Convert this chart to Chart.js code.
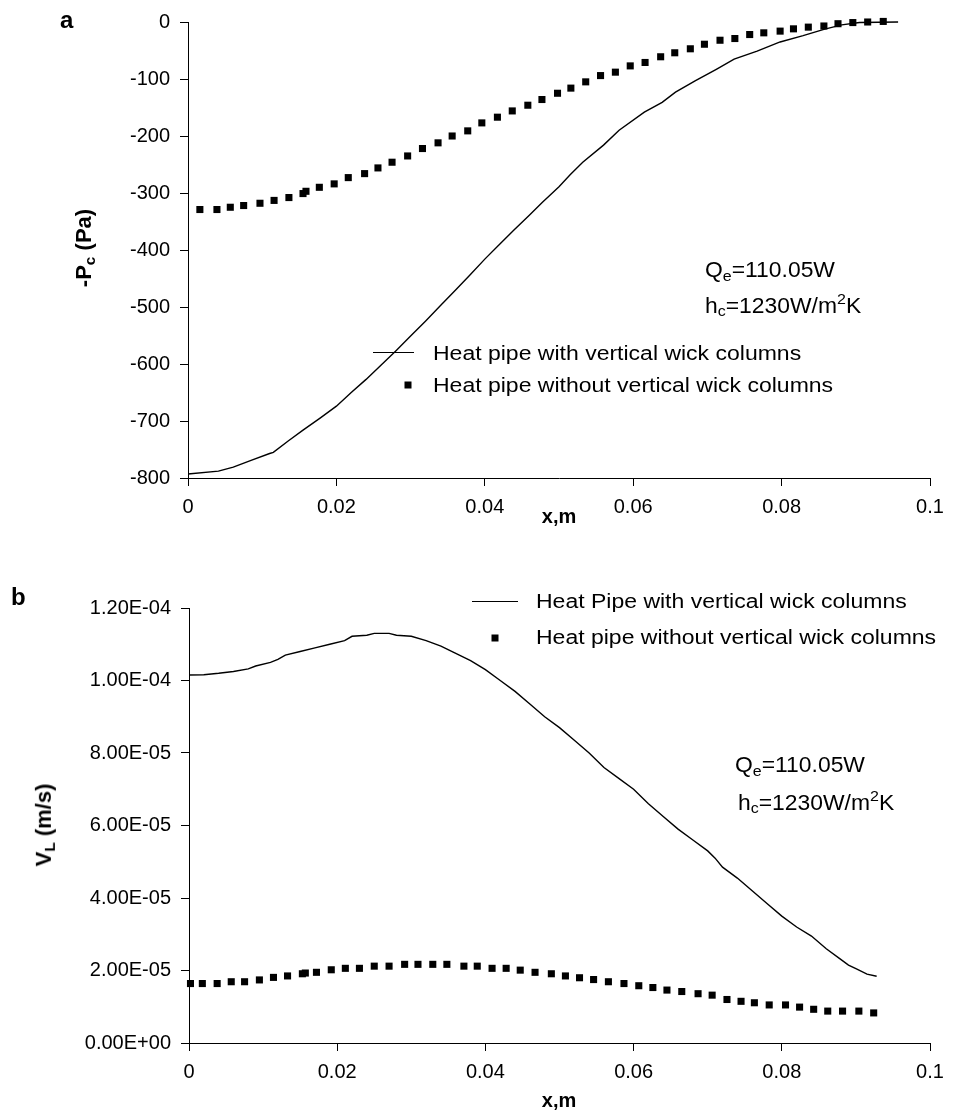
<!DOCTYPE html>
<html>
<head>
<meta charset="utf-8">
<script src="https://cdn.jsdelivr.net/npm/chart.js@4.4.1/dist/chart.umd.min.js"></script>
<style>
  html, body { margin: 0; padding: 0; background: #fff; }
  #wrap { position: relative; width: 953px; height: 1114px; overflow: hidden; font-family: "Liberation Sans", Arial, Helvetica, sans-serif; color: #000; }
  canvas { position: absolute; left: 0; }
  .t { position: absolute; white-space: nowrap; line-height: 1; }
  .lbl { font-weight: bold; font-size: 24px; }
  .ytitle { font-weight: bold; font-size: 22px; transform: translate(-50%, -50%) rotate(-90deg); }
  .xtitle { font-weight: bold; font-size: 20px; transform: translate(-50%, -50%); }
  .ann { font-size: 22px; transform: translateY(-50%) scaleX(1.04); transform-origin: left center; }
  .leg { font-size: 20px; transform: translateY(-50%) scaleX(1.15); transform-origin: left center; }
  sub { font-size: 70%; vertical-align: -0.25em; }
  sup { font-size: 70%; vertical-align: 0.55em; }
  .legline { position: absolute; height: 0; border-top: 1.5px solid #000; }
  .legsq { position: absolute; width: 7px; height: 7px; background: #000; transform: translate(-50%, -50%); }
</style>
</head>
<body>
<div id="wrap">
  <canvas id="ca" width="953" height="540" style="top:0px"></canvas>
  <canvas id="cb" width="953" height="554" style="top:560px"></canvas>

  <div class="t lbl" style="left:60px; top:8px;">a</div>
  <div class="t lbl" style="left:11px; top:585px;">b</div>

  <div class="t ytitle" style="left:85px; top:248px;">-P<sub>c</sub> (Pa)</div>
  <div class="t xtitle" style="left:559px; top:516px;">x,m</div>
  <div class="t ytitle" style="left:45px; top:825px;">V<sub>L</sub> (m/s)</div>
  <div class="t xtitle" style="left:559px; top:1100px;">x,m</div>

  <div class="t ann" style="left:705px; top:271px;">Q<sub>e</sub>=110.05W</div>
  <div class="t ann" style="left:705px; top:305px;">h<sub>c</sub>=1230W/m<sup>2</sup>K</div>
  <div class="t ann" style="left:735px; top:766px;">Q<sub>e</sub>=110.05W</div>
  <div class="t ann" style="left:738px; top:802px;">h<sub>c</sub>=1230W/m<sup>2</sup>K</div>

  <div class="legline" style="left:373px; width:41px; top:352px;"></div>
  <div class="t leg" style="left:433px; top:353px;">Heat pipe with vertical wick columns</div>
  <div class="legsq" style="left:408px; top:385px;"></div>
  <div class="t leg" style="left:433px; top:385px;">Heat pipe without vertical wick columns</div>

  <div class="legline" style="left:472px; width:46px; top:601px;"></div>
  <div class="t leg" style="left:536px; top:601px;">Heat Pipe with vertical wick columns</div>
  <div class="legsq" style="left:495px; top:638px;"></div>
  <div class="t leg" style="left:536px; top:637px;">Heat pipe without vertical wick columns</div>
</div>
<script>
// ---- Chart a: capillary pressure ----
const aLineX = [0, 0.0041, 0.0061, 0.0085, 0.011, 0.0115, 0.0135, 0.0155, 0.0178, 0.020, 0.022, 0.024, 0.026, 0.028, 0.030, 0.032, 0.034, 0.036, 0.038, 0.040, 0.042, 0.044, 0.046, 0.0477, 0.050, 0.0515, 0.0532, 0.056, 0.0581, 0.0615, 0.0639, 0.0657, 0.0684, 0.0712, 0.0736, 0.0767, 0.0798, 0.0829, 0.0857, 0.0881, 0.0905, 0.0957];
const aLineY = [-793, -788, -781, -769, -757, -755, -735, -716, -695, -674, -650, -627, -602, -577, -551, -525, -498, -471, -444, -416, -390, -364, -339, -317, -289, -268, -246, -216, -190, -158, -141, -123, -103, -83, -65, -51, -35, -24, -13, -5, -1, 0];
const aSqX = [0.0016, 0.0039, 0.0057, 0.0075, 0.0097, 0.0116, 0.0136, 0.0155, 0.0159, 0.0177, 0.0197, 0.0216, 0.0238, 0.0256, 0.0275, 0.0296, 0.0316, 0.0337, 0.0356, 0.0377, 0.0396, 0.0417, 0.0437, 0.0458, 0.0477, 0.0498, 0.0516, 0.0536, 0.0556, 0.0576, 0.0596, 0.0616, 0.0637, 0.0656, 0.0677, 0.0696, 0.0717, 0.0737, 0.0757, 0.0776, 0.0798, 0.0816, 0.0836, 0.0857, 0.0876, 0.0896, 0.0916, 0.0937];
const aSqY = [-329, -329, -325, -322, -318, -313, -308, -301, -297, -290, -284, -273, -266, -256, -246, -235, -222, -212, -200, -191, -177, -167, -156, -146, -136, -125, -116, -105, -94, -88, -77, -71, -61, -54, -47, -39, -32, -29, -22, -19, -16, -12, -9, -7, -3, -1, 0, 1];
const aYTicks = [-800, -700, -600, -500, -400, -300, -200, -100, 0];

// ---- Chart b: liquid velocity ----
const bLineX = [0, 0.002, 0.004, 0.006, 0.008, 0.009, 0.011, 0.012, 0.013, 0.015, 0.017, 0.019, 0.021, 0.022, 0.024, 0.025, 0.027, 0.028, 0.030, 0.032, 0.034, 0.036, 0.038, 0.040, 0.042, 0.044, 0.046, 0.048, 0.050, 0.052, 0.054, 0.056, 0.058, 0.060, 0.062, 0.064, 0.066, 0.068, 0.070, 0.071, 0.072, 0.074, 0.076, 0.078, 0.080, 0.082, 0.084, 0.086, 0.088, 0.089, 0.090, 0.0915, 0.0928];
const bLineY = [1.015e-4, 1.016e-4, 1.020e-4, 1.025e-4, 1.032e-4, 1.040e-4, 1.050e-4, 1.058e-4, 1.070e-4, 1.080e-4, 1.090e-4, 1.100e-4, 1.110e-4, 1.122e-4, 1.125e-4, 1.130e-4, 1.130e-4, 1.125e-4, 1.122e-4, 1.110e-4, 1.095e-4, 1.075e-4, 1.055e-4, 1.030e-4, 1.000e-4, 9.70e-5, 9.35e-5, 9.00e-5, 8.70e-5, 8.35e-5, 8.00e-5, 7.60e-5, 7.30e-5, 7.00e-5, 6.60e-5, 6.25e-5, 5.90e-5, 5.60e-5, 5.30e-5, 5.10e-5, 4.85e-5, 4.55e-5, 4.20e-5, 3.85e-5, 3.50e-5, 3.20e-5, 2.95e-5, 2.60e-5, 2.30e-5, 2.15e-5, 2.05e-5, 1.90e-5, 1.84e-5];
const bSqX = [0.0002, 0.0018, 0.0038, 0.0057, 0.0075, 0.0095, 0.0114, 0.0133, 0.0153, 0.0157, 0.0172, 0.0192, 0.0211, 0.0230, 0.0250, 0.0270, 0.0291, 0.0309, 0.0329, 0.0348, 0.0371, 0.0389, 0.0409, 0.0428, 0.0447, 0.0467, 0.0489, 0.0508, 0.0527, 0.0546, 0.0566, 0.0587, 0.0607, 0.0626, 0.0645, 0.0665, 0.0687, 0.0706, 0.0726, 0.0745, 0.0763, 0.0783, 0.0805, 0.0824, 0.0843, 0.0862, 0.0882, 0.0904, 0.0924];
const bSqY = [1.64e-5, 1.64e-5, 1.64e-5, 1.69e-5, 1.69e-5, 1.74e-5, 1.81e-5, 1.85e-5, 1.91e-5, 1.93e-5, 1.95e-5, 2.02e-5, 2.06e-5, 2.06e-5, 2.12e-5, 2.12e-5, 2.17e-5, 2.17e-5, 2.17e-5, 2.17e-5, 2.12e-5, 2.12e-5, 2.06e-5, 2.06e-5, 2.01e-5, 1.95e-5, 1.91e-5, 1.85e-5, 1.80e-5, 1.75e-5, 1.69e-5, 1.64e-5, 1.58e-5, 1.53e-5, 1.46e-5, 1.42e-5, 1.36e-5, 1.32e-5, 1.20e-5, 1.15e-5, 1.11e-5, 1.05e-5, 1.05e-5, 0.99e-5, 0.93e-5, 0.88e-5, 0.88e-5, 0.88e-5, 0.83e-5];
const bYTicks = [0, 2e-5, 4e-5, 6e-5, 8e-5, 1e-4, 1.2e-4];

const xTicks = [0, 0.02, 0.04, 0.06, 0.08, 0.1];

const seriesNames = ["Heat pipe with vertical wick columns", "Heat pipe without vertical wick columns"];

function pts(xs, ys) { return xs.map((x, i) => ({ x: x, y: ys[i] })); }

const FONT = { family: '"Liberation Sans", Arial, Helvetica, sans-serif', size: 20 };

function fmtX(v) { return String(parseFloat(v.toFixed(3))); }
function fmtE(v) {
  const s = Number(v).toExponential(2).split('e');
  let ex = parseInt(s[1], 10);
  const sign = ex < 0 ? '-' : '+';
  ex = Math.abs(ex);
  return s[0] + 'E' + sign + (ex < 10 ? '0' + ex : String(ex));
}

function makeChart(id, lineData, sqData, yTicks, yFmt, padTop, yWidth, xHeight) {
  const yMin = yTicks[0], yMax = yTicks[yTicks.length - 1];
  return new Chart(document.getElementById(id), {
    type: 'scatter',
    data: {
      datasets: [
        { label: seriesNames[0], data: lineData, showLine: true, borderColor: '#000', borderWidth: 1.4,
          pointRadius: 0, pointHoverRadius: 0, fill: false, tension: 0, clip: false },
        { label: seriesNames[1], data: sqData, showLine: false, pointStyle: 'rect', pointRadius: 5,
          pointHoverRadius: 5, backgroundColor: '#000', borderColor: '#000', borderWidth: 0, clip: false }
      ]
    },
    options: {
      responsive: false, animation: false, events: [],
      plugins: { legend: { display: false }, tooltip: { enabled: false } },
      layout: { padding: { top: padTop, left: 0, right: 23, bottom: 0 } },
      scales: {
        x: {
          type: 'linear', min: 0, max: 0.1,
          afterBuildTicks: s => { s.ticks = xTicks.map(v => ({ value: v })); },
          afterFit: s => { s.height = xHeight; },
          ticks: { color: '#000', font: FONT, padding: 9, maxRotation: 0, autoSkip: false, callback: v => fmtX(v) },
          grid: { drawOnChartArea: false, drawTicks: true, tickLength: 8, color: '#000', lineWidth: 1 },
          border: { display: true, color: '#000', width: 1 }
        },
        y: {
          type: 'linear', min: yMin, max: yMax,
          afterBuildTicks: s => { s.ticks = yTicks.map(v => ({ value: v })); },
          afterFit: s => { s.width = yWidth; },
          ticks: { color: '#000', font: FONT, padding: 10, autoSkip: false, callback: yFmt },
          grid: { drawOnChartArea: false, drawTicks: true, tickLength: 8, color: '#000', lineWidth: 1 },
          border: { display: true, color: '#000', width: 1 }
        }
      }
    }
  });
}

makeChart('ca', pts(aLineX, aLineY), pts(aSqX, aSqY), aYTicks, v => String(v), 17.5, 188, 62);
makeChart('cb', pts(bLineX, bLineY), pts(bSqX, bSqY), bYTicks, v => fmtE(v), 48, 189, 71);
</script>
</body>
</html>
